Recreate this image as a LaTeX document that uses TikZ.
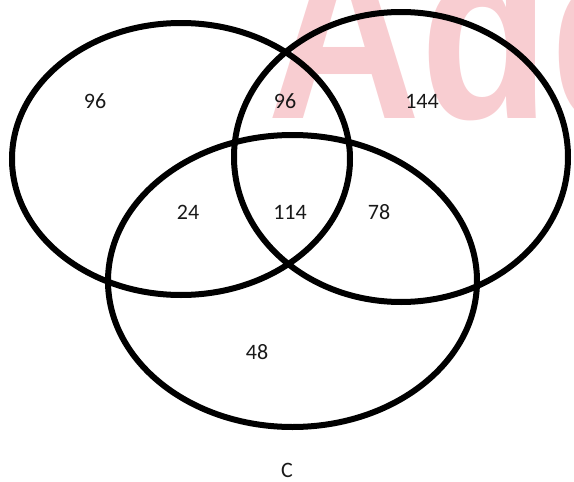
\documentclass[tikz,border=0pt]{standalone}
\usepackage{fontspec}
\setmainfont{Carlito}
\newfontfamily\wmfont{Liberation Sans}
\definecolor{wmpink}{RGB}{248,205,209}
\definecolor{txt}{RGB}{25,25,25}
\begin{document}
\begin{tikzpicture}[x=1pt,y=-1pt,
  ring/.style={line width=6pt,draw=black},
  num/.style={font=\fontsize{22}{26}\selectfont,text=txt,inner sep=0pt}]
\useasboundingbox (0,0) rectangle (574,482);
\begin{scope}
\clip (0,0) rectangle (574,482);
\node[anchor=base west,inner sep=0pt,text=wmpink,xscale=0.85,font=\wmfont\bfseries\fontsize{250}{250}\selectfont] (wm) at (267,118) {Adda};
\end{scope}
\draw[ring] (181,159) ellipse [x radius=169pt, y radius=136pt];
\draw[ring] (401,157) ellipse [x radius=167pt, y radius=145pt];
\draw[ring] (292.5,281) ellipse [x radius=184.5pt, y radius=146pt];
\node[num] (a) at (95,101) {96};
\node[num] (ab) at (285,101) {96};
\node[num] (b) at (422,101) {144};
\node[num] (ac) at (188,212) {24};
\node[num] (abc) at (290,212) {114};
\node[num] (bc) at (379,212) {78};
\node[num] (c) at (257,352) {48};
\node[num] (lc) at (287,470) {C};
\end{tikzpicture}
\end{document}
